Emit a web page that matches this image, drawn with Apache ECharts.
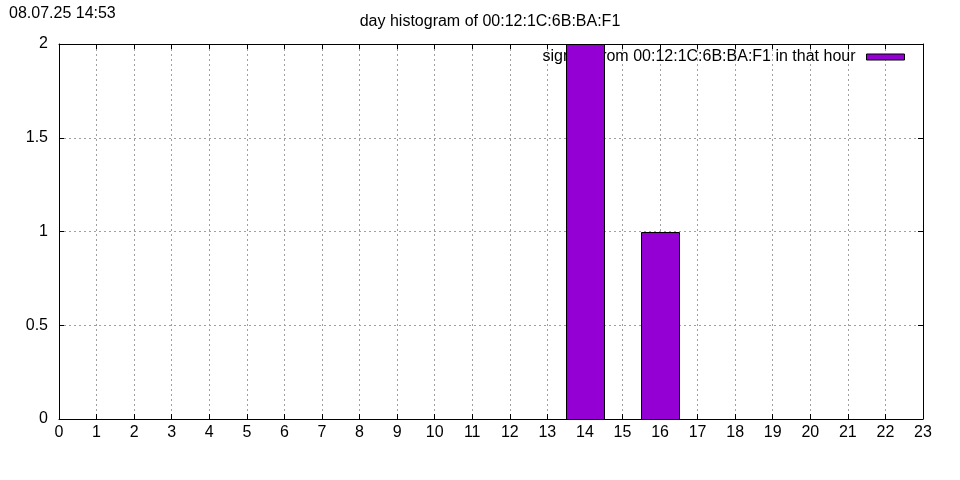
<!DOCTYPE html>
<html>
<head>
<meta charset="utf-8">
<script src="https://cdn.jsdelivr.net/npm/echarts@6/dist/echarts.min.js"></script>
<style>html,body{margin:0;padding:0;background:#fff}#c{width:960px;height:480px}</style>
</head>
<body>
<div id="c"></div>
<script>
var hours = [0,1,2,3,4,5,6,7,8,9,10,11,12,13,14,15,16,17,18,19,20,21,22,23];
var counts = [0,0,0,0,0,0,0,0,0,0,0,0,0,0,2,0,1,0,0,0,0,0,0,0];
var titleText = 'day histogram of 00:12:1C:6B:BA:F1';
var stampText = '08.07.25 14:53';
var seriesName = 'signals from 00:12:1C:6B:BA:F1 in that hour';
var yTicks = [0, 0.5, 1, 1.5, 2];

var FONT = 'Liberation Sans, Arial, sans-serif';
var data = hours.map(function(h, i){ return [h, counts[i]]; });
var chart = echarts.init(document.getElementById('c'), null, {renderer:'canvas'});
var gridLine = {show:true, lineStyle:{color:'#a0a0a0', type:[2,3], width:1}};
var axLine = {show:true, onZero:false, lineStyle:{color:'#000', width:1}};
var tick = {show:true, inside:true, length:5, lineStyle:{color:'#000'}};
chart.setOption({
  animation:false,
  backgroundColor:'#fff',
  grid:{left:59, right:37, top:44, bottom:61, containLabel:false},
  graphic:[
    {type:'text', x:9, y:14, z:10, style:{text:stampText, font:'16px '+FONT, fill:'#000', textVerticalAlign:'middle'}},
    {type:'text', x:490, y:22, z:10, style:{text:titleText, font:'16px '+FONT, fill:'#000', textAlign:'center', textVerticalAlign:'middle'}}
  ],
  legend:{
    show:true, z:1, right:55, top:49, padding:0, align:'right', icon:'rect',
    itemWidth:38, itemHeight:6, itemGap:10,
    itemStyle:{color:'#9400d3', borderColor:'#000', borderWidth:1},
    textStyle:{fontFamily:FONT, fontSize:16, color:'#000', padding:[0,6,0,0]},
    data:[seriesName]
  },
  xAxis:[
    {type:'value', position:'bottom', min:0, max:23, interval:1,
     axisLine:axLine, axisTick:tick, splitLine:gridLine,
     axisLabel:{show:true, margin:6, color:'#000', fontFamily:FONT, fontSize:16,
       formatter:function(v){return hours.indexOf(v)>=0 ? String(v) : '';}}},
    {type:'value', position:'top', min:0, max:23, interval:1,
     axisLine:axLine, axisTick:tick, splitLine:{show:false}, axisLabel:{show:false}}
  ],
  yAxis:[
    {type:'value', position:'left', min:0, max:2, interval:0.5,
     axisLine:axLine, axisTick:tick, splitLine:gridLine,
     axisLabel:{show:true, margin:11, color:'#000', fontFamily:FONT, fontSize:16,
       formatter:function(v){return yTicks.indexOf(v)>=0 ? String(v) : '';}}},
    {type:'value', position:'right', min:0, max:2, interval:0.5,
     axisLine:axLine, axisTick:tick, splitLine:{show:false}, axisLabel:{show:false}}
  ],
  series:[{
    name:seriesName, type:'custom', z:5, xAxisIndex:0, yAxisIndex:0,
    itemStyle:{color:'#9400d3', borderColor:'#000', borderWidth:1},
    data:data,
    renderItem:function(params, api){
      var x = api.value(0), y = api.value(1);
      if (!y) return null;
      var p1 = api.coord([x-0.5, y]);
      var p2 = api.coord([x+0.5, 0]);
      return {type:'rect', shape:{x:Math.round(p1[0])+0.5, y:Math.round(p1[1])+0.5,
        width:Math.round(p2[0])-Math.round(p1[0]), height:Math.round(p2[1])-Math.round(p1[1])},
        style:{fill:'#9400d3', stroke:'#000', lineWidth:1}};
    }
  }]
});
</script>
</body>
</html>
